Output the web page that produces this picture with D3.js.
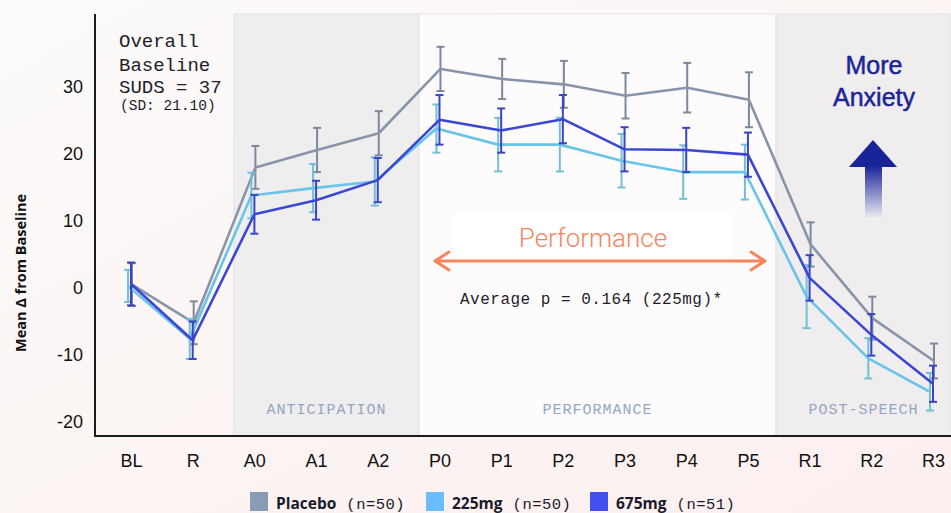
<!DOCTYPE html>
<html>
<head>
<meta charset="utf-8">
<script src="https://cdn.jsdelivr.net/npm/d3@7"></script>
<style>
  html, body { margin: 0; padding: 0; }
  body { width: 951px; height: 513px; overflow: hidden; }
</style>
</head>
<body>
<div id="graphContainer"></div>
<script>
// timepoints
const categories = ["BL", "R", "A0", "A1", "A2", "P0", "P1", "P2", "P3", "P4", "P5", "R1", "R2", "R3"];
const yTicks = [-20, -10, 0, 10, 20, 30];

// mean change from baseline, with error bar half-widths
const placebo    = [0.5, -5.2, 18.0, 20.6, 23.1, 32.7, 31.2, 30.4, 28.7, 29.9, 28.1, 6.5, -4.5, -10.9];
const placeboErr = [3.2, 3.2, 3.2, 3.3, 3.3, 3.3, 3.0, 3.5, 3.4, 3.7, 4.1, 3.3, 3.2, 2.6];
const mg225      = [0.3, -7.6, 13.8, 14.9, 15.9, 23.8, 21.4, 21.4, 19.0, 17.3, 17.3, -1.3, -10.5, -15.5];
const mg225Err   = [2.4, 3.0, 3.4, 3.6, 3.6, 3.6, 4.0, 4.0, 4.0, 4.0, 4.1, 4.7, 3.0, 2.8];
const mg675      = [0.6, -7.8, 11.0, 13.1, 16.1, 25.1, 23.5, 25.2, 20.7, 20.6, 19.9, 1.5, -7.0, -14.3];
const mg675Err   = [3.2, 2.8, 2.9, 2.9, 3.3, 3.7, 3.3, 3.6, 3.3, 3.3, 3.3, 3.4, 3.1, 2.7];

const seriesNames = ["Placebo", "225mg", "675mg"];
const seriesN = ["(n=50)", "(n=50)", "(n=51)"];

const series = [
    { name: "Placebo", values: placebo, err: placeboErr, line: "#8894aa", bar: "#7c889e", legend: "#8a9bb8", dx: 1 },
    { name: "225mg", values: mg225, err: mg225Err, line: "#68c4e8", bar: "#74bfd6", legend: "#6bbcff", dx: -3 },
    { name: "675mg", values: mg675, err: mg675Err, line: "#3b47d2", bar: "#3a44c4", legend: "#4250f0", dx: 0 },
];

const width = 951, height = 513;
const mono = "'Liberation Mono', 'DejaVu Sans Mono', monospace";
const sans = "'Liberation Sans', Arial, sans-serif";

const svg = d3.select("#graphContainer").append("svg")
    .attr("width", width)
    .attr("height", height);

const defs = svg.append("defs");
const bg = defs.append("linearGradient").attr("id", "bg")
    .attr("x1", "0").attr("y1", "0").attr("x2", "1").attr("y2", "1");
bg.append("stop").attr("offset", "0%").attr("stop-color", "#fcfbfa");
bg.append("stop").attr("offset", "100%").attr("stop-color", "#fbefee");

const arrowGrad = defs.append("linearGradient").attr("id", "arrowGrad")
    .attr("x1", "0").attr("y1", "0").attr("x2", "0").attr("y2", "1");
arrowGrad.append("stop").attr("offset", "0%").attr("stop-color", "#1a2499");
arrowGrad.append("stop").attr("offset", "100%").attr("stop-color", "#f4f3f5");

svg.append("rect").attr("width", width).attr("height", height).attr("fill", "url(#bg)");

const x = d3.scalePoint()
    .domain(categories)
    .range([131, 933]);

const y = d3.scaleLinear()
    .domain([-22.1, 40.9])
    .range([436, 14]);

// phase panels
const panels = [
    { from: 234, to: 419, fill: "#efeeee", label: "ANTICIPATION" },
    { from: 419, to: 776, fill: "#fdfbfb", label: "PERFORMANCE" },
    { from: 776, to: 951, fill: "#efeded", label: "POST-SPEECH" },
];
panels.forEach(p => {
    svg.append("rect")
        .attr("x", p.from).attr("y", 14)
        .attr("width", p.to - p.from).attr("height", 436 - 14)
        .attr("fill", p.fill)
        .attr("stroke", "#e4e2e2")
        .attr("stroke-width", 1);
    svg.append("text")
        .attr("x", (p.from + p.to) / 2).attr("y", 414)
        .attr("text-anchor", "middle")
        .attr("font-family", mono)
        .attr("font-size", 15)
        .attr("letter-spacing", 1)
        .attr("fill", "#93a6c4")
        .text(p.label);
});

// axes
const yAxis = svg.append("g")
    .attr("transform", "translate(95,0)")
    .call(d3.axisLeft(y).tickValues(yTicks).tickSize(0).tickPadding(12)
        .tickFormat(d => String(d)));
yAxis.select(".domain").remove();
yAxis.selectAll("text")
    .attr("font-family", sans)
    .attr("font-size", 18)
    .attr("fill", "#111");

const xAxis = svg.append("g")
    .attr("transform", "translate(0,436)")
    .call(d3.axisBottom(x).tickSize(0).tickPadding(18));
xAxis.select(".domain").remove();
xAxis.selectAll("text")
    .attr("font-family", sans)
    .attr("font-size", 18)
    .attr("fill", "#111");

svg.append("line").attr("x1", 95).attr("x2", 95).attr("y1", 14).attr("y2", 437)
    .attr("stroke", "#1c1c1c").attr("stroke-width", 2);
svg.append("line").attr("x1", 94).attr("x2", 951).attr("y1", 436).attr("y2", 436)
    .attr("stroke", "#1c1c1c").attr("stroke-width", 2);

svg.append("text")
    .attr("transform", "translate(26,273) rotate(-90)")
    .attr("text-anchor", "middle")
    .attr("font-family", "'Open Sans', sans-serif")
    .attr("font-weight", "bold")
    .attr("font-size", 14.5)
    .attr("fill", "#111")
    .text("Mean Δ from Baseline");

// series: error bars + lines
series.forEach(s => {
    const g = svg.append("g");
    const capW = 4;
    categories.forEach((c, i) => {
        const cx = x(c) + s.dx;
        const lo = y(s.values[i] - s.err[i]);
        const hi = y(s.values[i] + s.err[i]);
        g.append("line").attr("x1", cx).attr("x2", cx).attr("y1", lo).attr("y2", hi)
            .attr("stroke", s.bar).attr("stroke-width", 2);
        g.append("line").attr("x1", cx - capW).attr("x2", cx + capW).attr("y1", lo).attr("y2", lo)
            .attr("stroke", s.bar).attr("stroke-width", 2);
        g.append("line").attr("x1", cx - capW).attr("x2", cx + capW).attr("y1", hi).attr("y2", hi)
            .attr("stroke", s.bar).attr("stroke-width", 2);
    });
    g.append("path")
        .datum(s.values)
        .attr("d", d3.line().x((d, i) => x(categories[i]) + s.dx).y(d => y(d)))
        .attr("fill", "none")
        .attr("stroke", s.line)
        .attr("stroke-width", 2.6)
        .attr("stroke-linejoin", "round");
});

// baseline note
const note = svg.append("text")
    .attr("font-family", mono)
    .attr("fill", "#1e1e2a");
[["Overall", 47], ["Baseline", 71], ["SUDS = 37", 93]].forEach(([t, yy]) => {
    note.append("tspan").attr("x", 119).attr("y", yy).attr("font-size", 19).text(t);
});
note.append("tspan").attr("x", 120).attr("y", 110).attr("font-size", 14.5).text("(SD: 21.10)");

// performance annotation
svg.append("rect").attr("x", 452).attr("y", 213).attr("width", 282).attr("height", 44)
    .attr("fill", "#ffffff");
svg.append("text")
    .attr("x", 593).attr("y", 247)
    .attr("text-anchor", "middle")
    .attr("font-family", "Roboto, sans-serif")
    .attr("font-weight", 300)
    .attr("font-size", 26)
    .attr("fill", "#f6855f")
    .text("Performance");
const orange = "#f6855f";
svg.append("line").attr("x1", 435).attr("x2", 765).attr("y1", 261).attr("y2", 261)
    .attr("stroke", orange).attr("stroke-width", 3);
svg.append("path").attr("d", "M449,252 L435,261 L449,270")
    .attr("fill", "none").attr("stroke", orange).attr("stroke-width", 3)
    .attr("stroke-linecap", "round").attr("stroke-linejoin", "round");
svg.append("path").attr("d", "M751,252 L765,261 L751,270")
    .attr("fill", "none").attr("stroke", orange).attr("stroke-width", 3)
    .attr("stroke-linecap", "round").attr("stroke-linejoin", "round");

svg.append("text")
    .attr("x", 460).attr("y", 304)
    .attr("font-family", mono)
    .attr("font-size", 16)
    .attr("letter-spacing", 0.5)
    .attr("fill", "#1e1e2a")
    .text("Average p = 0.164 (225mg)*");

// more anxiety
[["More", 74], ["Anxiety", 106]].forEach(([t, yy]) => {
    svg.append("text")
        .attr("x", 874).attr("y", yy)
        .attr("text-anchor", "middle")
        .attr("font-family", sans)
        .attr("font-size", 25)
        .attr("fill", "#1b2597")
        .attr("stroke", "#1b2597")
        .attr("stroke-width", 0.5)
        .text(t);
});
svg.append("path").attr("d", "M849,167 L873,140 L897,167 Z").attr("fill", "#1a2499");
svg.append("rect").attr("x", 865).attr("y", 166).attr("width", 17).attr("height", 54)
    .attr("fill", "url(#arrowGrad)");

// legend
const legendX = [250, 426, 590];
series.forEach((s, i) => {
    const lx = legendX[i];
    svg.append("rect").attr("x", lx).attr("y", 492).attr("width", 18).attr("height", 19)
        .attr("fill", s.legend);
    const t = svg.append("text").attr("x", lx + 26).attr("y", 509).attr("fill", "#1a1a2a");
    t.append("tspan")
        .attr("font-family", "'Open Sans', sans-serif")
        .attr("font-weight", "bold")
        .attr("font-size", 15.5)
        .text(seriesNames[i]);
    t.append("tspan")
        .attr("dx", 10)
        .attr("font-family", mono)
        .attr("font-size", 15.5)
        .attr("letter-spacing", 0.5)
        .text(seriesN[i]);
});
</script>
</body>
</html>
